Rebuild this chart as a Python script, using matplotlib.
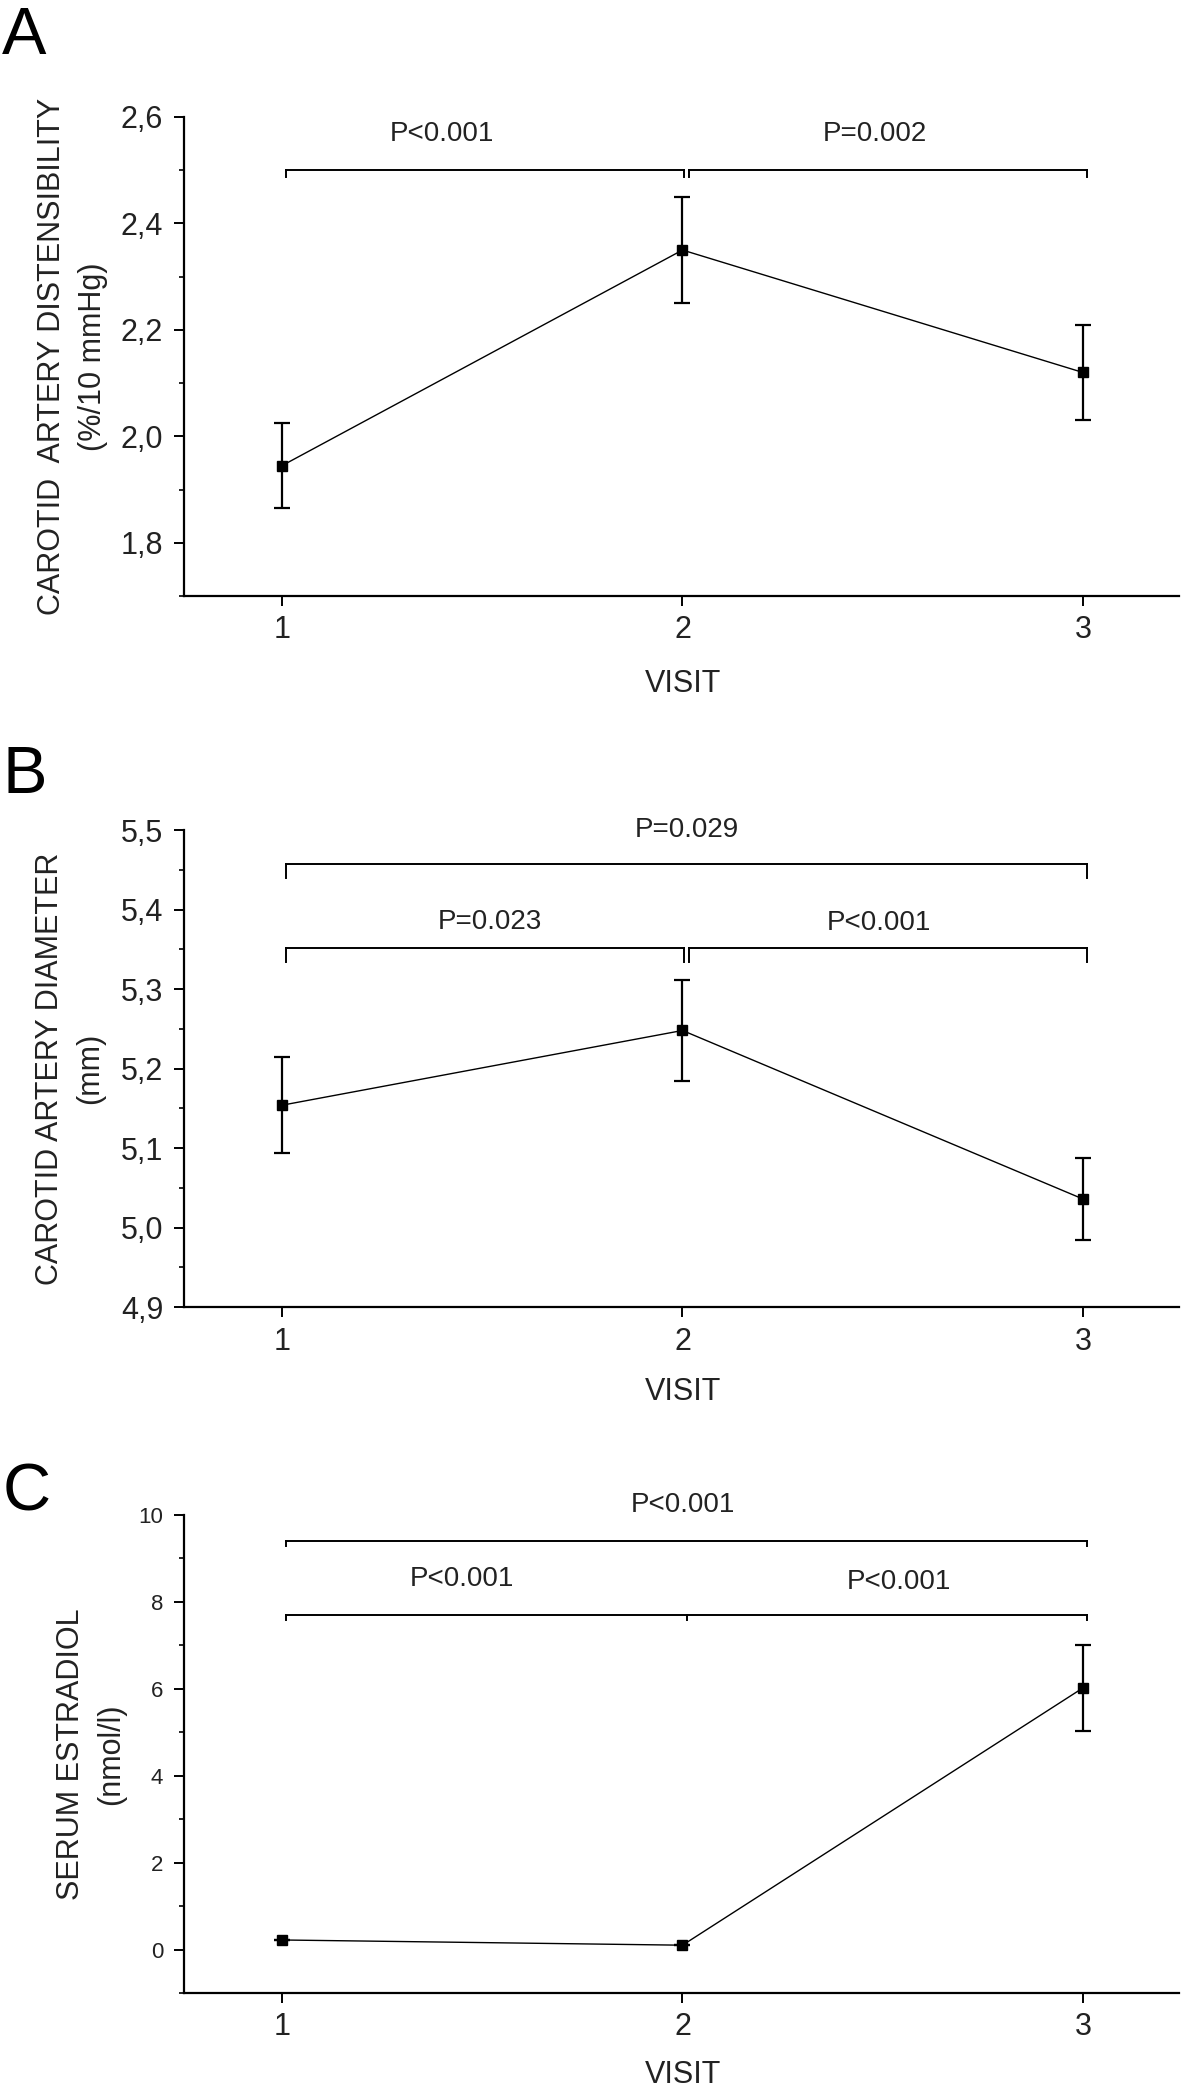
import matplotlib
matplotlib.use('Agg')
import matplotlib.pyplot as plt
from matplotlib.ticker import MultipleLocator, FuncFormatter

plt.rcParams['font.family'] = ['Liberation Sans', 'DejaVu Sans']

# Dados
visitas = [1, 2, 3]

# A - distensibilidade da carótida (%/10 mmHg)
dist_media = [1.945, 2.35, 2.12]
dist_erro = [0.08, 0.10, 0.09]

# B - diâmetro da carótida (mm)
diam_media = [5.154, 5.248, 5.036]
diam_erro = [0.060, 0.063, 0.052]

# C - estradiol sérico (nmol/l)
estr_media = [0.22, 0.10, 6.02]
estr_erro = [0.0, 0.0, 1.0]

# Chaves de significância: (pontos x, nível y)
chaves_a = [([1.01, 2.005], 2.5), ([2.015, 3.01], 2.5)]
chaves_b = [([1.01, 3.01], 5.458), ([1.01, 2.005], 5.352), ([2.015, 3.01], 5.352)]
chaves_c = [([1.01, 3.01], 9.41), ([1.01, 2.01, 3.01], 7.71)]

# Textos dos valores P: (texto, x, y)
p_a = [('P<0.001', 1.40, 2.568), ('P=0.002', 2.48, 2.568)]
p_b = [('P=0.029', 2.01, 5.50), ('P=0.023', 1.52, 5.385), ('P<0.001', 2.49, 5.383)]
p_c = [('P<0.001', 2.00, 10.24), ('P<0.001', 1.45, 8.52), ('P<0.001', 2.54, 8.47)]

cor_texto = '#222222'

fig = plt.figure(figsize=(11.81, 20.89), dpi=100)


def virgula(v, pos):
    return ('%.1f' % v).replace('.', ',')


def painel(pos, media, erro, ylim, major, minor, fmt, ylabel, xlab_y,
           visit_y, chaves, queda, textos, letra, letra_y, ytick_size=22):
    ax = fig.add_axes(pos)
    ax.errorbar(visitas, media, yerr=erro, color='black', marker='s',
                markersize=7.5, linewidth=1.0, elinewidth=1.6, capsize=6,
                capthick=1.6)
    ax.set_xlim(0.755, 3.24)
    ax.set_ylim(*ylim)
    ax.set_xticks(visitas)
    ax.yaxis.set_major_locator(MultipleLocator(major))
    ax.yaxis.set_minor_locator(MultipleLocator(minor))
    ax.yaxis.set_major_formatter(FuncFormatter(fmt))
    for lado in ['top', 'right']:
        ax.spines[lado].set_visible(False)
    for lado in ['left', 'bottom']:
        ax.spines[lado].set_linewidth(1.6)
    ax.tick_params(axis='both', which='major', length=7, width=1.4,
                   pad=7, colors='black', labelcolor=cor_texto)
    ax.tick_params(axis='y', which='major', labelsize=ytick_size, pad=8)
    ax.tick_params(axis='x', which='major', labelsize=22)
    ax.tick_params(axis='y', which='minor', length=3.5, width=1.2)

    ax.set_ylabel(ylabel, fontsize=22, linespacing=1.45, color=cor_texto,
                  ha='center', va='center', multialignment='center')
    ax.yaxis.set_label_coords(xlab_y, 0.5)
    ax.set_xlabel('VISIT', fontsize=22, color=cor_texto, va='center')
    ax.xaxis.set_label_coords(0.5015, visit_y)

    dy = queda * (ylim[1] - ylim[0])
    for xs, y in chaves:
        ax.plot([xs[0], xs[-1]], [y, y], color='black', linewidth=1.4,
                clip_on=False)
        for x in xs:
            ax.plot([x, x], [y, y - dy], color='black', linewidth=1.4,
                    clip_on=False)
    for txt, x, y in textos:
        ax.text(x, y, txt, fontsize=20, color=cor_texto, ha='center',
                va='center')

    fig.text(0.002, letra_y, letra, fontsize=48, ha='left', va='baseline')
    return ax


painel([0.1558, 0.7147, 0.8425, 0.2293], dist_media, dist_erro,
       (1.7, 2.6), 0.2, 0.1, virgula,
       'CAROTID  ARTERY DISTENSIBILITY\n(%/10 mmHg)', -0.112, -0.184,
       chaves_a, 0.014, p_a, 'A', 0.9741)

painel([0.1558, 0.3743, 0.8425, 0.2283], diam_media, diam_erro,
       (4.9, 5.5), 0.1, 0.05, virgula,
       'CAROTID ARTERY DIAMETER\n(mm)', -0.1146, -0.178,
       chaves_b, 0.03, p_b, 'B', 0.6204)

painel([0.1558, 0.04596, 0.8425, 0.2288], estr_media, estr_erro,
       (-1, 10), 2, 1, lambda v, pos: '%d' % v,
       'SERUM ESTRADIOL\n(nmol/l)', -0.0935, -0.172,
       chaves_c, 0.012, p_c, 'C', 0.2767, ytick_size=16)

plt.savefig('out.png', dpi=100)
